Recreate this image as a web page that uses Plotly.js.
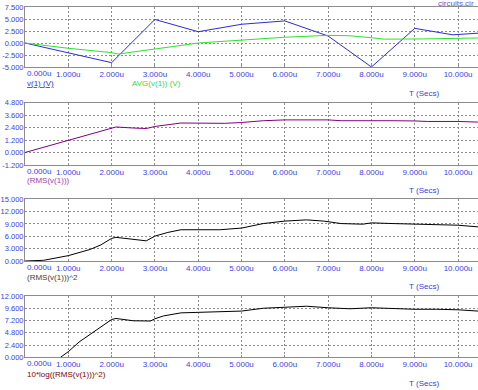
<!DOCTYPE html>
<html><head><meta charset="utf-8">
<script src="https://cdn.plot.ly/plotly-3.0.1.min.js"></script>
<style>html,body{margin:0;padding:0;background:#fff}#chart{width:478px;height:390px}</style>
</head><body><div id="chart"></div>
<script>
// time axis (microseconds)
const tickTimes = [0,1,2,3,4,5,6,7,8,9,10];
const tickTimeLabels = ["0.000u","1.000u","2.000u","3.000u","4.000u","5.000u","6.000u","7.000u","8.000u","9.000u","10.000u"];

// panel 1: v(1) and AVG(v(1))
const tV = [0,1,2,3,4,5,6,7,8,9,9.88,10.46];
const v1 = [0,-2.0,-4.1,4.9,2.35,3.9,4.6,1.45,-5.0,3.05,1.7,2.05];
const tAvg = [0,1,2,2.15,3,4,5,6,7,7.5,8,8.3,9.2,9.9,10.46];
const avgV1 = [0,-1.1,-2.0,-2.3,-1.25,0,0.6,1.2,1.6,1.5,1.1,0.8,0.85,1.0,1.05];

// panel 2: RMS(v(1))
const tRms = [0,1,2,2.1,2.5,2.8,3,3.3,3.6,4,4.6,5,5.5,6,7,7.3,7.8,8,8.5,9,9.3,10,10.46];
const rms = [0,1.2,2.4,2.45,2.35,2.3,2.5,2.7,2.83,2.82,2.8,2.88,3.05,3.13,3.13,3.05,3.05,3.12,3.05,3.03,2.98,2.98,2.92];

// panel 3: (RMS(v(1)))^2
const tSq = [0,0.43,1,1.5,1.75,2,2.1,2.5,2.8,3,3.3,3.6,4,4.5,5,5.5,6,6.5,6.9,7.3,7.8,8,8.5,9,9.5,10,10.46];
const rmsSq = [0,0.17,1.3,2.8,3.9,5.5,5.75,5.25,4.9,6.05,6.95,7.6,7.6,7.6,8.0,9.1,9.7,10.0,9.7,9.1,8.95,9.27,9.1,8.95,8.8,8.7,8.3];

// panel 4: 10*log((RMS(v(1)))^2)
const tDb = [0.4,0.6,0.82,1,1.25,1.5,1.75,2,2.1,2.5,2.9,3,3.2,3.6,4,5,5.5,6,6.5,7,7.5,8,8.5,9,9.5,10,10.46];
const db = [-6.4,-2.8,0,1.1,3.0,4.5,6.0,7.4,7.6,7.15,7.1,7.55,8.1,8.7,8.8,9.05,9.6,9.85,10.0,9.7,9.5,9.7,9.5,9.4,9.4,9.3,9.05];

// y tick labels
const y1Ticks = [-5,-2.5,0,2.5,5,7.5];
const y1Labels = ["-5.000","-2.500","0.000","2.500","5.000","7.500"];
const y2Ticks = [-1.2,0,1.2,2.4,3.6,4.8];
const y2Labels = ["-1.200","0.000","1.200","2.400","3.600","4.800"];
const y3Ticks = [0,3,6,9,12,15];
const y3Labels = ["0.000","3.000","6.000","9.000","12.000","15.000"];
const y4Ticks = [0,2.4,4.8,7.2,9.6,12];
const y4Labels = ["0.000","2.400","4.800","7.200","9.600","12.000"];

const W = 478, H = 390, L = 25;
const px = x => (x - L) / (W - L);
const py = y => 1 - y / H;

const FONT = "Liberation Sans, Arial, sans-serif";
const TICKCOL = "#4040e8";
const GRID = "#8c8c8c";

// first time label is drawn left-aligned at the axis (as in the reference) via an annotation
const xText = tickTimeLabels.map((s,i)=> i===0 ? "" : s);

function xax(anchor){
  return {anchor: anchor, range:[0,10.46], tickmode:"array", tickvals:tickTimes, ticktext:xText,
    showgrid:true, gridcolor:GRID, griddash:"2px,2px", gridwidth:1, zeroline:false,
    showline:true, linecolor:GRID, linewidth:1, mirror:true,
    ticks:"inside", ticklen:2, tickcolor:GRID, ticklabelstandoff:-1,
    tickfont:{family:FONT,size:8,color:TICKCOL}, fixedrange:true};
}
function yax(anchor, dom, rng, tv, tt){
  return {anchor: anchor, domain: dom, range: rng, tickmode:"array", tickvals:tv, ticktext:tt,
    showgrid:true, gridcolor:GRID, griddash:"2px,2px", gridwidth:1, zeroline:false,
    showline:true, linecolor:GRID, linewidth:1, ticks:"", ticklabelstandoff:-1, ticklabeloverflow:"allow",
    tickfont:{family:FONT,size:7.5,color:TICKCOL}, fixedrange:true};
}

const traces = [
  {x:tV, y:v1, xaxis:"x", yaxis:"y", mode:"lines", line:{color:"#2c2cd8",width:1}},
  {x:tAvg, y:avgV1, xaxis:"x", yaxis:"y", mode:"lines", line:{color:"#30e030",width:1}},
  {x:tRms, y:rms, xaxis:"x2", yaxis:"y2", mode:"lines", line:{color:"#800080",width:1}},
  {x:tSq, y:rmsSq, xaxis:"x3", yaxis:"y3", mode:"lines", line:{color:"#000000",width:1}},
  {x:tDb, y:db, xaxis:"x4", yaxis:"y4", mode:"lines", line:{color:"#000000",width:1}}
];

function ann(text, x, y, color, anchor){
  return {text:text, xref:"paper", yref:"paper", x:px(x), y:py(y), xanchor:anchor||"left", yanchor:"middle",
    showarrow:false, font:{family:FONT,size:8,color:color}};
}

const bottoms = [67, 165, 261, 357.3];
const zeroLabels = bottoms.map(b => ann(tickTimeLabels[0], 25, b + 6.5, TICKCOL));

const layout = {
  width:W, height:H, margin:{l:L,r:0,t:0,b:0}, paper_bgcolor:"#fff", plot_bgcolor:"#fff",
  showlegend:false,
  xaxis: xax("y"), xaxis2: xax("y2"), xaxis3: xax("y3"), xaxis4: xax("y4"),
  yaxis: yax("x", [py(67), py(7)], [-5,7.5], y1Ticks, y1Labels),
  yaxis2: yax("x2", [py(165), py(102.5)], [-1.2,4.8], y2Ticks, y2Labels),
  yaxis3: yax("x3", [py(261), py(199.3)], [0,15], y3Ticks, y3Labels),
  yaxis4: yax("x4", [py(357.3), py(296)], [0,12], y4Ticks, y4Labels),
  annotations: zeroLabels.concat([
    ann("circuits.cir", 476, 3.5, "#5a5ad8", "right"),
    ann("<u>v(1) (V)</u>", 25, 83.5, "#3030e0"),
    ann("AVG(v(1)) (V)", 129.5, 83.5, "#40d840"),
    ann("T (Secs)", 406.5, 93, "#3c3ce6"),
    ann("(RMS(v(1)))", 25, 180.5, "#a040a8"),
    ann("T (Secs)", 406.5, 190.5, "#3c3ce6"),
    ann("(RMS(v(1)))^2", 25, 277, "#404040"),
    ann("T (Secs)", 406.5, 286.5, "#3c3ce6"),
    ann("10*log((RMS(v(1)))^2)", 25, 374.5, "#800000"),
    ann("T (Secs)", 406.5, 383.5, "#3c3ce6")
  ])
};

Plotly.newPlot("chart", traces, layout, {staticPlot:true, displayModeBar:false});
</script></body></html>
